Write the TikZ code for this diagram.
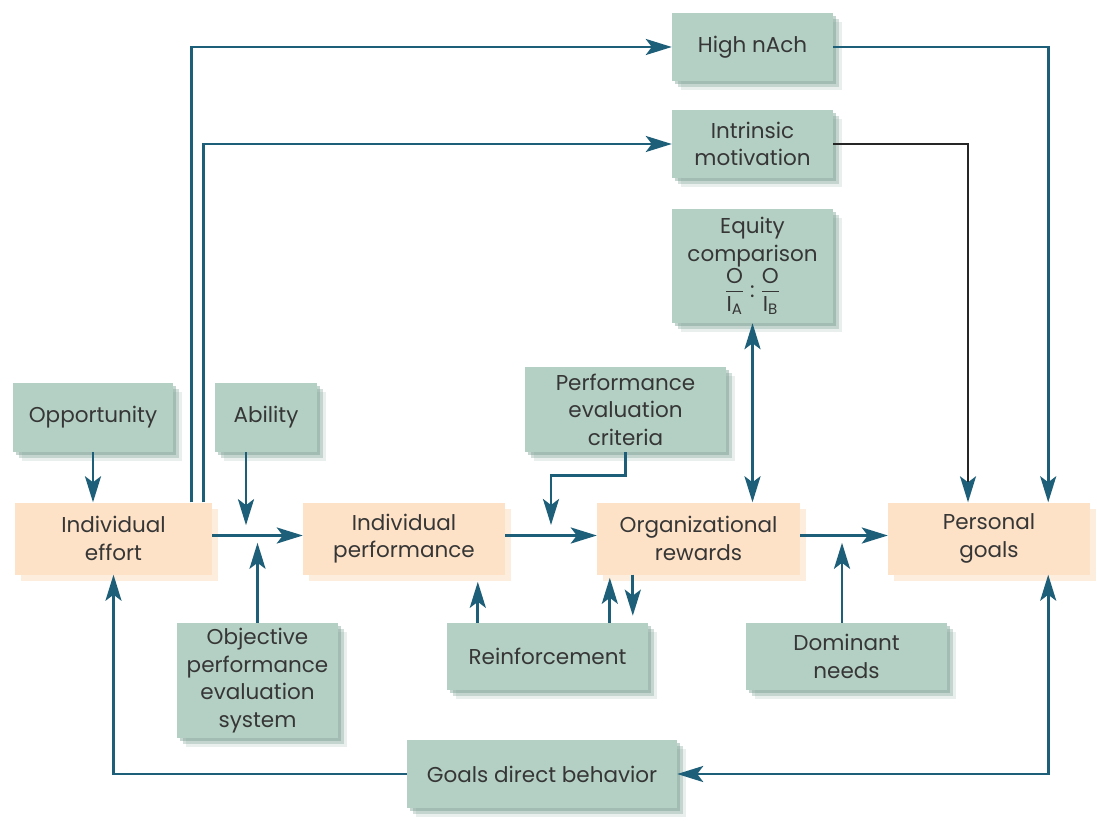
\documentclass[tikz,border=0pt]{standalone}
\usepackage{fontspec}
\usepackage{amsmath}
\setmainfont{Poppins}
\usetikzlibrary{arrows.meta,shadows,calc}
\definecolor{tealc}{HTML}{1D5E78}
\definecolor{sage}{HTML}{B4D0C4}
\definecolor{sageshadow}{HTML}{6F978A}
\definecolor{peach}{HTML}{FDE2C7}
\definecolor{peachshadow}{HTML}{FDEDDD}
\definecolor{txt}{HTML}{363636}
\begin{document}
\begin{tikzpicture}[x=1pt,y=-1pt,
  >={Stealth[length=26pt,width=16pt,inset=6pt]},
  gbox/.style={fill=sage, text=txt, inner sep=0pt, align=center,
    font=\fontsize{21.5}{27.5}\selectfont,
    drop shadow={shadow xshift=9pt, shadow yshift=-9pt, fill=sageshadow, opacity=0.15},
    drop shadow={shadow xshift=6pt, shadow yshift=-6pt, fill=sageshadow, opacity=0.3},
    drop shadow={shadow xshift=3pt, shadow yshift=-3pt, fill=sageshadow, opacity=0.4}},
  obox/.style={fill=peach, text=txt, inner sep=0pt, align=center,
    font=\fontsize{21.5}{27.5}\selectfont,
    drop shadow={shadow xshift=6pt, shadow yshift=-6pt, fill=peachshadow, opacity=1}},
  arr/.style={draw=tealc, line width=2.8pt, ->},
  blk/.style={draw=black!85, line width=2.2pt, -{Stealth[length=26pt,width=16pt,inset=6pt,color=tealc]}},
 ]
\useasboundingbox[fill=white] (0,0) rectangle (1097,821);

% upper green boxes
\node[gbox, minimum width=161pt, minimum height=68pt] (nach) at (752.5,47) {High nAch};
\node[gbox, minimum width=161pt, minimum height=68pt] (intr) at (752.5,144) {Intrinsic\\motivation};
\node[gbox, minimum width=161pt, minimum height=114pt] (eq) at (752.5,266)
  {Equity\\comparison\\$\dfrac{\text{O}}{\text{I}_{\text{A}}}$\;:\;$\dfrac{\text{O}}{\text{I}_{\text{B}}}$};
\node[gbox, minimum width=160pt, minimum height=69pt] (opp) at (93,417.5) {Opportunity};
\node[gbox, minimum width=102pt, minimum height=69pt] (abil) at (266,417.5) {Ability};
\node[gbox, minimum width=201pt, minimum height=85pt] (pec) at (625.5,409.5) {Performance\\evaluation\\criteria};

% orange boxes
\node[obox, minimum width=197pt, minimum height=72pt] (eff) at (113.5,538.5) {Individual\\effort};
\node[obox, minimum width=202pt, minimum height=72pt] (perf) at (404,538.5) {Individual\\performance};
\node[obox, minimum width=203pt, minimum height=72pt] (org) at (698.5,538.5) {Organizational\\rewards};
\node[obox, minimum width=202pt, minimum height=72pt] (pers) at (989,538.5) {Personal\\goals};

% lower green boxes
\node[gbox, minimum width=161pt, minimum height=115pt] (obj) at (257.5,680.5) {Objective\\performance\\evaluation\\system};
\node[gbox, minimum width=201pt, minimum height=67pt] (reinf) at (547.5,656.5) {Reinforcement};
\node[gbox, minimum width=201pt, minimum height=67pt] (dom) at (846.5,656.5) {Dominant\\needs};
\node[gbox, minimum width=270pt, minimum height=68pt] (gdb) at (542,774) {Goals direct behavior};

% connectors
\draw[arr] ([xshift=-21pt]eff.north east) |- (nach.west);
\draw[arr] ([xshift=-9pt]eff.north east) |- (intr.west);
\draw[arr] (nach.east) -| ([xshift=-42pt]pers.north east);
\draw[blk] (intr.east) -| ([xshift=-21pt]pers.north);
\draw[arr, <->] (eq.south) -- (eq.south |- org.north);

\draw[arr] (opp.south) -- (opp.south |- eff.north);
\draw[arr] ([xshift=-20pt]abil.south) -- ++(0,73);
\draw[arr] (obj.north) -- ++(0,-80);
\draw[arr] ([yshift=3pt]eff.east) -- ([yshift=3pt]perf.west);

\draw[arr] (pec.south) -- ++(0,23) -| ($(perf.east)!.5!(org.west)+(0,-13.5)$);
\draw[arr] ([yshift=3pt]perf.east) -- ([yshift=3pt]org.west);
\draw[arr] ([xshift=31pt]reinf.north west) -- ++(0,-41);
\draw[arr] ([xshift=163pt]reinf.north west) -- ++(0,-45);
\draw[arr] ([xshift=36pt]org.south west) -- ++(0,41);

\draw[arr] ([xshift=-4.5pt]dom.north) -- ++(0,-80);
\draw[arr] ([yshift=3pt]org.east) -- ([yshift=3pt]pers.west);

\draw[arr] (gdb.west) -| (eff.south);
\draw[arr, <->] ([xshift=-42pt]pers.south east) |- (gdb.east);
\end{tikzpicture}
\end{document}
